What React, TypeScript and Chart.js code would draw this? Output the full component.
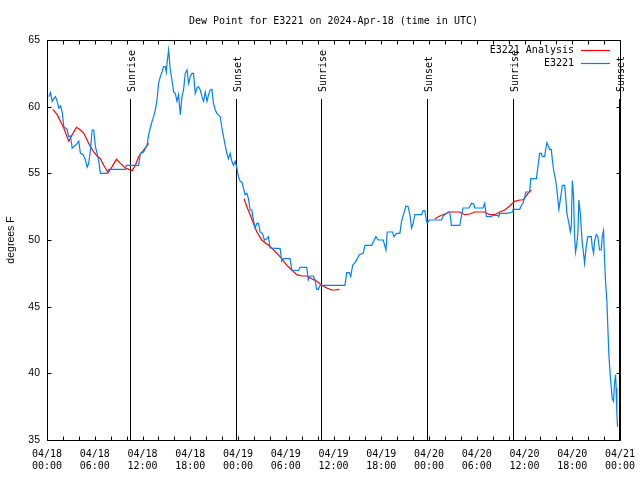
import React, { useEffect, useRef } from "react";
import { Chart, registerables } from "chart.js";

Chart.register(...registerables);

const titleText = "Dew Point for E3221 on 2024-Apr-18 (time in UTC)";
const yAxisTitle = "degrees F";
const dayLabels = ["04/18", "04/19", "04/20", "04/21"];
const seriesNames = ["E3221 Analysis", "E3221"];
const seriesColors = ["#ff0000", "rgb(0,128,255)"];

// hours since 2024-04-18 00:00 UTC
const sunEventHours = [10.47, 23.72, 34.44, 47.74, 58.55, 71.85];
const sunEventNames = ["Sunrise", "Sunset", "Sunrise", "Sunset", "Sunrise", "Sunset"];

const obsHours = [
  0.23, 0.44, 0.65, 0.85, 1.07, 1.28, 1.48, 1.69, 1.91, 2.11, 2.32, 2.53, 2.73, 2.95, 3.16, 3.36, 3.57, 3.79, 3.99, 4.2,
  4.54, 4.83, 5.04, 5.24, 5.46, 5.67, 5.87, 6.08, 6.3, 6.5, 6.71, 7.55, 7.75, 9.84, 9.97, 11.52, 11.73, 12.14, 12.57, 12.77,
  12.98, 13.2, 13.4, 13.61, 13.82, 14.02, 14.24, 14.45, 14.65, 14.86, 14.99, 15.08, 15.28, 15.49, 15.7, 15.91, 16.12, 16.33, 16.53, 16.75,
  16.96, 17.16, 17.37, 17.59, 17.79, 18.0, 18.21, 18.41, 18.63, 18.84, 19.04, 19.26, 19.47, 19.67, 19.88, 20.1, 20.3, 20.51, 20.72, 20.92,
  21.14, 21.35, 21.76, 21.98, 22.18, 22.39, 22.6, 22.8, 23.02, 23.23, 23.43, 23.64, 23.86, 24.06, 24.27, 24.49, 24.9, 25.11, 25.31, 25.53,
  25.74, 25.86, 26.15, 26.37, 26.57, 26.78, 27.07, 27.32, 27.62, 27.82, 28.04, 29.29, 29.5, 29.7, 30.54, 30.76, 31.59, 31.8, 32.64, 32.84,
  33.05, 33.47, 33.68, 33.89, 34.09, 34.31, 37.44, 37.66, 37.98, 38.16, 38.41, 38.7, 38.99, 39.24, 39.74, 39.95, 40.79, 41.33, 41.62, 42.25,
  42.59, 42.75, 43.43, 43.59, 43.93, 44.34, 44.55, 44.84, 45.1, 45.38, 45.6, 45.81, 46.01, 46.22, 47.06, 47.26, 47.48, 47.69, 47.77, 48.11,
  49.57, 49.78, 50.4, 50.61, 50.82, 51.87, 52.08, 52.28, 53.04, 53.34, 53.62, 53.75, 54.79, 55.0, 55.22, 55.84, 56.05, 56.64, 56.76, 56.89,
  57.8, 58.48, 58.55, 59.4, 59.61, 59.81, 60.02, 60.15, 60.65, 60.78, 61.49, 61.69, 61.9, 62.12, 62.24, 62.53, 62.65, 62.82, 62.95, 63.16,
  63.37, 63.5, 63.66, 63.91, 64.07, 64.2, 64.32, 64.63, 64.75, 65.04, 65.17, 65.33, 65.58, 65.76, 65.88, 66.01, 66.17, 66.29, 66.42, 66.58,
  66.71, 66.83, 67.01, 67.26, 67.42, 67.55, 67.76, 67.96, 68.39, 68.51, 68.68, 68.8, 69.02, 69.22, 69.43, 69.64, 69.77, 69.93, 70.06, 70.18,
  70.35, 70.47, 70.6, 70.77, 70.9, 71.02, 71.19, 71.31, 71.44, 71.52, 71.6, 71.69,
];
const obsValues = [
  60.75, 61.05, 60.4, 60.6, 60.75, 60.4, 59.9, 60.05, 59.6, 58.5, 58.4, 58.3, 57.75, 57.8, 56.9, 57.0, 57.1, 57.25, 57.4, 56.5,
  56.4, 56.0, 55.45, 55.75, 56.75, 58.25, 58.25, 57.0, 56.5, 55.9, 55.0, 55.0, 55.3, 55.3, 55.6, 55.6, 56.5, 56.6, 57.1, 57.9,
  58.4, 58.9, 59.25, 59.75, 60.5, 61.75, 62.25, 62.6, 63.0, 63.0, 62.6, 63.25, 64.25, 62.75, 62.0, 61.1, 61.0, 60.4, 60.9, 59.4,
  60.75, 61.25, 62.5, 62.75, 61.75, 62.25, 62.5, 62.5, 61.0, 61.4, 61.5, 61.25, 60.75, 60.4, 61.1, 60.4, 60.9, 61.25, 61.3, 60.25,
  59.75, 59.5, 59.25, 58.4, 57.75, 57.1, 56.5, 56.1, 56.5, 55.9, 55.6, 55.9, 55.4, 54.75, 54.4, 54.35, 53.4, 53.5, 53.1, 52.25,
  52.25, 51.75, 50.9, 51.25, 51.25, 50.6, 50.5, 50.0, 50.1, 50.25, 49.4, 49.35, 48.4, 48.6, 48.6, 47.75, 47.7, 47.95, 47.95, 47.0,
  47.3, 47.3, 47.0, 46.3, 46.3, 46.6, 46.6, 47.55, 47.55, 47.25, 48.1, 48.3, 48.6, 48.9, 49.0, 49.6, 49.6, 50.25, 50.0, 50.0,
  49.25, 50.6, 50.6, 50.25, 50.5, 50.5, 51.4, 52.0, 52.55, 52.5, 51.9, 50.9, 51.25, 51.9, 51.9, 52.2, 52.2, 51.4, 51.3, 51.5,
  51.5, 51.8, 52.1, 52.1, 51.1, 51.1, 51.8, 52.4, 52.4, 52.75, 52.7, 52.4, 52.4, 52.75, 51.75, 51.75, 51.85, 51.85, 51.75, 52.0,
  52.0, 52.1, 52.3, 52.3, 52.6, 52.75, 53.2, 53.6, 53.6, 54.6, 54.6, 55.5, 56.5, 56.5, 56.25, 56.25, 56.75, 57.3, 57.1, 56.8,
  56.8, 56.0, 55.25, 54.5, 53.75, 53.0, 52.3, 53.55, 54.1, 54.1, 53.25, 52.0, 51.25, 50.6, 51.0, 54.45, 53.25, 50.25, 49.1, 49.75,
  50.5, 53.0, 52.0, 49.75, 49.0, 48.25, 49.5, 50.25, 50.25, 49.5, 49.0, 49.9, 50.4, 50.25, 49.25, 49.25, 50.25, 50.7, 48.5, 46.9,
  45.4, 43.5, 41.4, 39.9, 39.0, 38.1, 37.9, 39.25, 39.9, 38.9, 37.0, 36.0,
];

// analysis series; null marks a gap between analysis runs
const anaHours = [
  0.73, 1.28, 1.69, 2.11, 2.73, 3.16, 3.7, 4.2, 4.62, 5.04, 5.46, 5.87, 6.3, 6.71, 7.12, 7.68, 8.18, 8.72, 9.22, 9.84,
  10.69, 11.1, 11.52, 11.94, 12.36, 12.77, 18.0,
  24.77, 25.11, 25.53, 25.94, 26.37, 26.99, 27.62, 28.25, 28.88, 29.5, 30.13, 30.76, 31.38, 32.01, 32.64, 33.27, 33.89, 34.52, 35.15, 35.78,
  36.19, 36.73, 42.0,
  48.74, 49.37, 49.99, 50.62, 51.87, 52.5, 53.12, 53.75, 55.0, 55.63, 56.25, 56.89, 57.51, 58.14, 58.77, 59.4, 59.81, 60.15, 60.44, 60.86,
];
const anaValues = [
  59.8, 59.4, 58.9, 58.4, 57.4, 57.9, 58.45, 58.25, 58.0, 57.5, 57.0, 56.6, 56.3, 56.1, 55.6, 55.05, 55.5, 56.05, 55.75, 55.4,
  55.2, 55.6, 56.25, 56.6, 56.9, 57.25, null,
  53.1, 52.5, 51.9, 51.25, 50.6, 50.0, 49.7, 49.4, 49.0, 48.6, 48.1, 47.75, 47.4, 47.3, 47.3, 47.1, 46.9, 46.6, 46.4, 46.25,
  46.25, 46.3, null,
  51.6, 51.8, 51.95, 52.1, 52.1, 51.9, 51.95, 52.1, 52.1, 51.9, 51.9, 52.1, 52.25, 52.55, 52.9, 53.0, 53.0, 53.25, 53.5, 53.75,
];

const MONO = "'DejaVu Sans Mono', monospace";
const SANS = "'Liberation Sans', Arial, sans-serif";

const pad2 = (n: number) => (n < 10 ? "0" + n : "" + n);

const overlayPlugin = {
  id: "gnuplotOverlay",
  beforeDatasetsDraw(chart: any) {
    const { ctx, chartArea: a, scales } = chart;
    const xs = scales.x;
    ctx.save();
    ctx.strokeStyle = "#000";
    ctx.lineWidth = 1;
    ctx.fillStyle = "#000";
    ctx.font = "10px " + MONO;
    sunEventHours.forEach((h, i) => {
      const px = Math.round(xs.getPixelForValue(h)) + 0.5;
      ctx.beginPath();
      ctx.moveTo(px, a.top + 59);
      ctx.lineTo(px, a.bottom);
      ctx.stroke();
      ctx.save();
      ctx.translate(px + 1.5, a.top + 52);
      ctx.rotate(-Math.PI / 2);
      ctx.textAlign = "left";
      ctx.textBaseline = "middle";
      ctx.fillText(sunEventNames[i], 0, 0);
      ctx.restore();
    });
    ctx.restore();
  },
  afterDatasetsDraw(chart: any) {
    const { ctx, chartArea: a, scales } = chart;
    const xs = scales.x;
    const ys = scales.y;
    ctx.save();
    ctx.strokeStyle = "#000";
    ctx.lineWidth = 1;
    const L = Math.round(a.left) + 0.5;
    const R = Math.round(a.right) + 0.5;
    const T = Math.round(a.top) + 0.5;
    const B = Math.round(a.bottom) + 0.5;
    ctx.beginPath();
    ctx.rect(L, T, R - L, B - T);
    ctx.stroke();
    // inward tick marks
    ctx.beginPath();
    xs.ticks.forEach((t: any) => {
      const px = Math.round(xs.getPixelForValue(t.value)) + 0.5;
      ctx.moveTo(px, B);
      ctx.lineTo(px, B - 4);
      ctx.moveTo(px, T);
      ctx.lineTo(px, T + 4);
    });
    ys.ticks.forEach((t: any) => {
      const py = Math.round(ys.getPixelForValue(t.value)) + 0.5;
      ctx.moveTo(L, py);
      ctx.lineTo(L + 4, py);
      ctx.moveTo(R, py);
      ctx.lineTo(R - 4, py);
    });
    ctx.stroke();

    // title
    ctx.fillStyle = "#000";
    ctx.font = "10px " + MONO;
    ctx.textAlign = "center";
    ctx.textBaseline = "middle";
    ctx.fillText(titleText, (a.left + a.right) / 2, a.top - 19);

    // legend (gnuplot style: text then line sample)
    chart.data.datasets.forEach((ds: any, i: number) => {
      const y = a.top + 10 + i * 13;
      ctx.textAlign = "right";
      ctx.fillStyle = "#000";
      ctx.fillText(ds.label, a.right - 46, y);
      ctx.strokeStyle = ds.borderColor;
      ctx.lineWidth = 1.2;
      ctx.beginPath();
      ctx.moveTo(a.right - 39, Math.round(y) + 0.5);
      ctx.lineTo(a.right - 10, Math.round(y) + 0.5);
      ctx.stroke();
    });
    ctx.restore();
  },
};

export default function App() {
  const ref = useRef<HTMLCanvasElement>(null);
  useEffect(() => {
    const canvas = ref.current;
    if (!canvas) return;
    const chart = new Chart(canvas, {
      type: "line",
      data: {
        datasets: [
          {
            label: seriesNames[0],
            data: anaHours.map((h, i) => ({ x: h, y: anaValues[i] as any })),
            borderColor: seriesColors[0],
            borderWidth: 1.2,
            pointRadius: 0,
            tension: 0,
            spanGaps: false,
            order: 1,
          },
          {
            label: seriesNames[1],
            data: obsHours.map((h, i) => ({ x: h, y: obsValues[i] })),
            borderColor: seriesColors[1],
            borderWidth: 1.2,
            pointRadius: 0,
            tension: 0,
            order: 0,
          },
        ],
      },
      options: {
        responsive: false,
        animation: false,
        devicePixelRatio: 1,
        layout: { padding: { top: 40, right: 20, left: 0, bottom: 0 } },
        plugins: {
          legend: { display: false },
          tooltip: { enabled: false },
          title: { display: false },
        },
        scales: {
          x: {
            type: "linear",
            min: 0,
            max: 72,
            grid: { display: false, drawTicks: false },
            border: { display: false },
            ticks: {
              stepSize: 2,
              autoSkip: false,
              maxRotation: 0,
              minRotation: 0,
              padding: 8,
              color: "#000",
              font: { family: MONO, size: 10, lineHeight: 1.2 },
              callback: (v: any) => {
                const n = Number(v);
                if (n % 6 !== 0) return "";
                return [dayLabels[Math.floor(n / 24)], pad2(n % 24) + ":00"];
              },
            },
            afterFit: (s: any) => {
              s.height = 40;
              s.paddingLeft = 0;
              s.paddingRight = 0;
            },
          },
          y: {
            type: "linear",
            min: 35,
            max: 65,
            grid: { display: false, drawTicks: false },
            border: { display: false },
            ticks: {
              stepSize: 5,
              padding: 7,
              color: "#000",
              font: { family: SANS, size: 10.5 },
            },
            title: {
              display: true,
              text: yAxisTitle,
              color: "#000",
              font: { family: SANS, size: 10.5 },
              padding: { top: 5, bottom: 0 },
            },
            afterFit: (s: any) => {
              s.width = 47;
              s.paddingTop = 0;
              s.paddingBottom = 0;
            },
          },
        },
      },
      plugins: [overlayPlugin],
    } as any);
    return () => chart.destroy();
  }, []);

  return (
    <div style={{ position: "fixed", left: 0, top: 0, width: 640, height: 480, background: "#fff" }}>
      <canvas ref={ref} width={640} height={480} style={{ display: "block", width: 640, height: 480 }} />
    </div>
  );
}
